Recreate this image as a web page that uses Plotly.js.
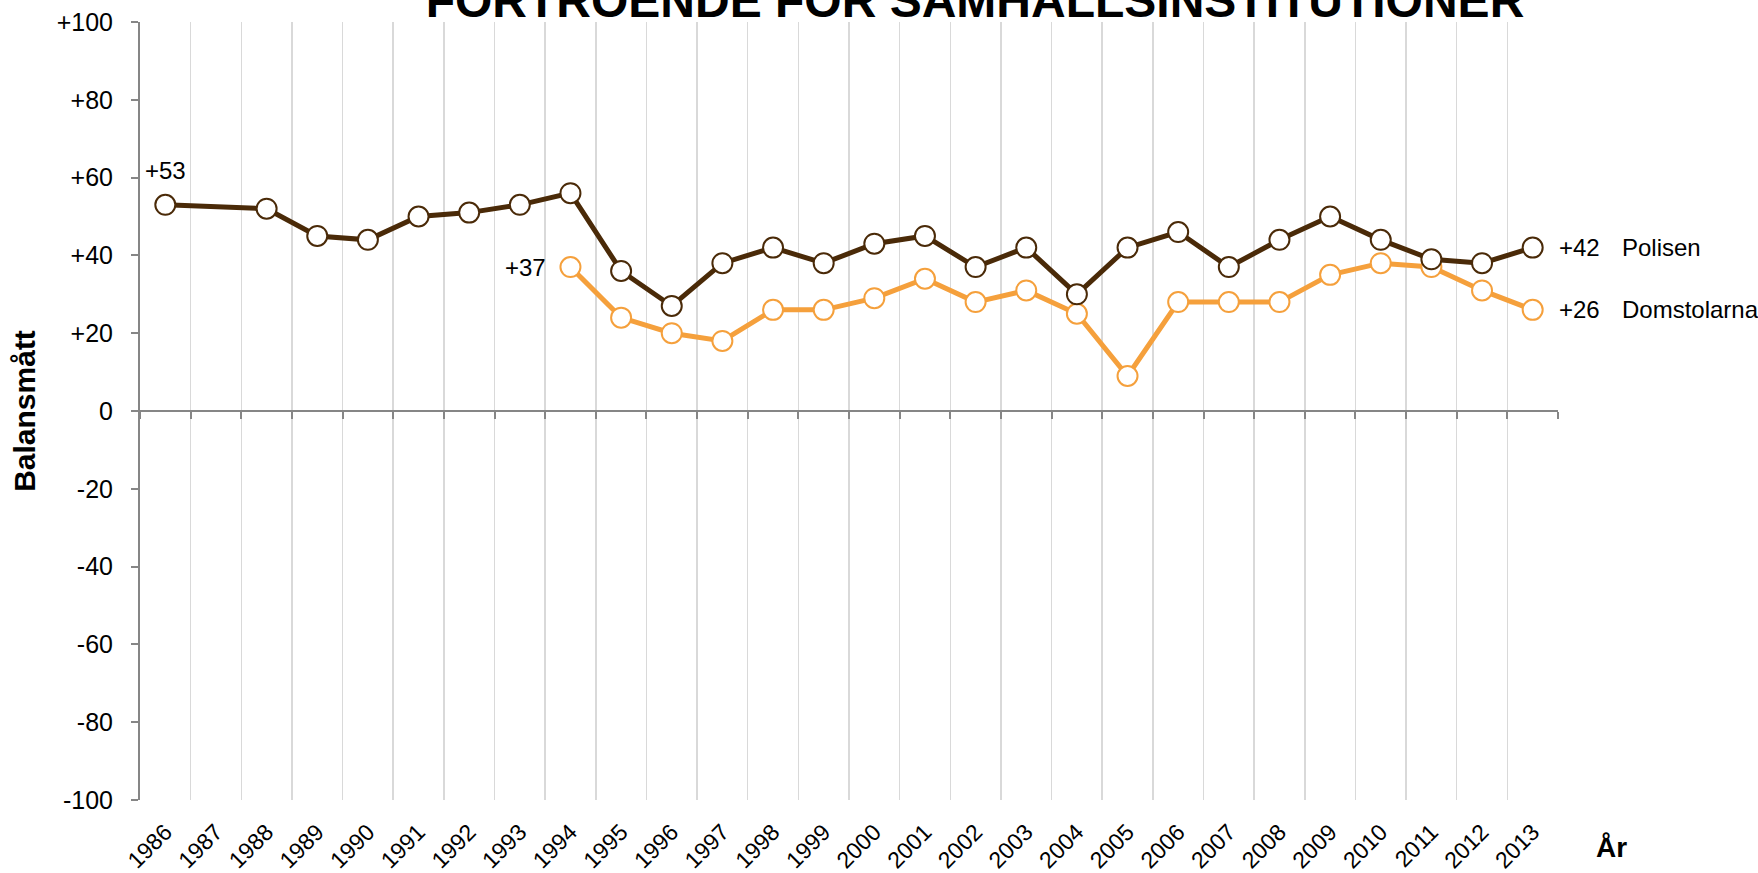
<!DOCTYPE html>
<html>
<head>
<meta charset="utf-8">
<script src="https://cdn.plot.ly/plotly-3.0.1.min.js"></script>
<style>html,body{margin:0;padding:0;background:#fff;}#chart{width:1758px;height:873px;}</style>
</head>
<body>
<div id="chart"></div>
<script>
const years = ['1986','1987','1988','1989','1990','1991','1992','1993','1994','1995','1996','1997','1998','1999','2000','2001','2002','2003','2004','2005','2006','2007','2008','2009','2010','2011','2012','2013'];
const polisen = [53,null,52,45,44,50,51,53,56,36,27,38,42,38,43,45,37,42,30,42,46,37,44,50,44,39,38,42];
const domstolarna = [null,null,null,null,null,null,null,null,37,24,20,18,26,26,29,34,28,31,25,9,28,28,28,35,38,37,31,26];
const yTickVals = [-100,-80,-60,-40,-20,0,20,40,60,80,100];
const yTickText = ['-100','-80','-60','-40','-20','0','+20','+40','+60','+80','+100'];
const seriesNames = ['Polisen','Domstolarna'];
const titleText = 'FÖRTROENDE FÖR SAMHÄLLSINSTITUTIONER';
const yTitle = 'Balansmått';
const xTitle = 'År';

const FONT = 'Liberation Sans, Arial, Helvetica, sans-serif';
const BROWN = '#4a2a08';
const ORANGE = '#f5a03c';
const AXIS = '#868686';

const traces = [
  {x: years, y: years.map(() => null), xaxis: 'x2', yaxis: 'y', mode: 'lines', hoverinfo: 'skip', showlegend: false},
  {x: years, y: domstolarna, name: seriesNames[1], mode: 'lines+markers', connectgaps: true,
   line: {color: ORANGE, width: 5}, marker: {size: 20, color: '#ffffff', line: {color: ORANGE, width: 2}}, cliponaxis: false},
  {x: years, y: polisen, name: seriesNames[0], mode: 'lines+markers', connectgaps: true,
   line: {color: BROWN, width: 5}, marker: {size: 20, color: '#ffffff', line: {color: BROWN, width: 2}}, cliponaxis: false}
];

// category axes: annotations use category index
const iFirst = 0;
const iDom = domstolarna.findIndex(v => v !== null);
const iLast = years.length - 1;
const annFont = {family: FONT, size: 24, color: '#000'};
const annotations = [
  {x: iFirst, y: polisen[iFirst], text: '+' + polisen[iFirst], showarrow: false, font: annFont, xanchor: 'center', yanchor: 'middle', yshift: 34},
  {x: iDom, y: domstolarna[iDom], text: '+' + domstolarna[iDom], showarrow: false, font: annFont, xanchor: 'right', yanchor: 'middle', xshift: -22},
  {x: iLast, y: polisen[iLast], text: '+' + polisen[iLast], showarrow: false, font: annFont, xanchor: 'left', yanchor: 'middle', xshift: 24},
  {x: iLast, y: polisen[iLast], text: seriesNames[0], showarrow: false, font: annFont, xanchor: 'left', yanchor: 'middle', xshift: 87},
  {x: iLast, y: domstolarna[iLast], text: '+' + domstolarna[iLast], showarrow: false, font: annFont, xanchor: 'left', yanchor: 'middle', xshift: 24},
  {x: iLast, y: domstolarna[iLast], text: seriesNames[1], showarrow: false, font: annFont, xanchor: 'left', yanchor: 'middle', xshift: 87},
  {xref: 'paper', yref: 'paper', x: 1.038, y: -0.061, text: xTitle, showarrow: false,
   font: {family: FONT, size: 28, color: '#000', weight: 700}, xanchor: 'center', yanchor: 'middle'}
];

const layout = {
  width: 1758, height: 873, autosize: false,
  margin: {l: 140, r: 200, t: 22, b: 73, pad: 0},
  paper_bgcolor: '#fff', plot_bgcolor: '#fff',
  font: {family: FONT, color: '#000'},
  showlegend: false,
  title: {text: titleText, font: {family: FONT, size: 48, color: '#000', weight: 700},
          xref: 'container', x: 0.5546, xanchor: 'center', yref: 'container', y: 1, yanchor: 'middle'},
  xaxis: {type: 'category', categoryorder: 'array', categoryarray: years, range: [-0.5, years.length - 0.5],
          tickson: 'boundaries', showgrid: true, gridcolor: '#d9d9d9', gridwidth: 1.5,
          ticks: '', showline: false, zeroline: false, tickangle: -45,
          ticklabelstandoff: 13, ticklabelshift: 0,
          tickfont: {family: FONT, size: 23, color: '#000'}, fixedrange: true},
  xaxis2: {type: 'category', categoryorder: 'array', categoryarray: years, range: [-0.5, years.length - 0.5],
           overlaying: 'x', anchor: 'free', position: 0.5, side: 'bottom',
           tickson: 'boundaries', ticks: 'outside', ticklen: 7, tickwidth: 2, tickcolor: AXIS,
           showticklabels: false, showgrid: false, showline: false, zeroline: false, fixedrange: true},
  yaxis: {range: [-100, 100], tickvals: yTickVals, ticktext: yTickText,
          ticks: 'outside', ticklen: 7, tickwidth: 2, tickcolor: AXIS, ticklabelstandoff: 13,
          showline: true, linecolor: AXIS, linewidth: 2, showgrid: false,
          zeroline: true, zerolinecolor: AXIS, zerolinewidth: 2,
          tickfont: {family: FONT, size: 25, color: '#000'},
          title: {text: yTitle, font: {family: FONT, size: 30, color: '#000', weight: 700}, standoff: 12},
          fixedrange: true},
  annotations: annotations
};

Plotly.newPlot('chart', traces, layout, {displayModeBar: false, staticPlot: true});
</script>
</body>
</html>
